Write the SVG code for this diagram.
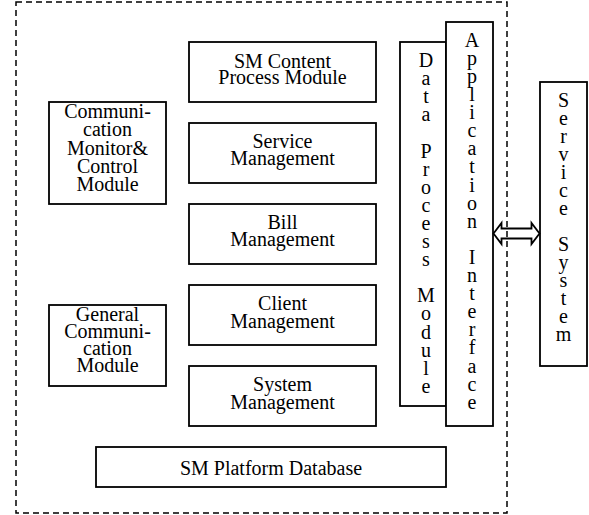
<svg xmlns="http://www.w3.org/2000/svg" width="589" height="515" viewBox="0 0 589 515">
<style>
.box{fill:#fff;stroke:#000;stroke-width:1.8}
.t{font-family:"Liberation Serif","Times New Roman",serif;font-size:20px;fill:#000;text-anchor:middle}
.border{fill:none;stroke:#000;stroke-width:1.5;stroke-dasharray:6 4}
</style>
<rect width="589" height="515" fill="#fff"/>
<g id="n-sm-content">
<rect class="box" x="189" y="42" width="187" height="60"/>
<text class="t" x="282.5" y="67.5">SM Content</text>
<text class="t" x="282.5" y="84">Process Module</text>
</g>
<g id="n-service-mgmt">
<rect class="box" x="189" y="123" width="187" height="60"/>
<text class="t" x="282.5" y="147.5">Service</text>
<text class="t" x="282.5" y="164.5">Management</text>
</g>
<g id="n-bill-mgmt">
<rect class="box" x="189" y="204" width="187" height="60"/>
<text class="t" x="282.5" y="228.5">Bill</text>
<text class="t" x="282.5" y="246">Management</text>
</g>
<g id="n-client-mgmt">
<rect class="box" x="189" y="285" width="187" height="60"/>
<text class="t" x="282.5" y="310">Client</text>
<text class="t" x="282.5" y="327.5">Management</text>
</g>
<g id="n-system-mgmt">
<rect class="box" x="189" y="366" width="187" height="60"/>
<text class="t" x="282.5" y="391">System</text>
<text class="t" x="282.5" y="408.5">Management</text>
</g>
<g id="n-comm-monitor">
<rect class="box" x="49" y="102" width="117" height="102"/>
<text class="t" x="107.5" y="118.3">Communi-</text>
<text class="t" x="107.5" y="136.4">cation</text>
<text class="t" x="107.5" y="154.5">Monitor&amp;</text>
<text class="t" x="107.5" y="172.6">Control</text>
<text class="t" x="107.5" y="190.7">Module</text>
</g>
<g id="n-general-comm">
<rect class="box" x="49" y="305" width="117" height="81"/>
<text class="t" x="107.5" y="321">General</text>
<text class="t" x="107.5" y="338">Communi-</text>
<text class="t" x="107.5" y="355">cation</text>
<text class="t" x="107.5" y="372.3">Module</text>
</g>
<g id="n-database">
<rect class="box" x="96" y="447" width="350" height="40"/>
<text class="t" x="271" y="475">SM Platform Database</text>
</g>
<g id="n-data-process">
<rect class="box" x="400" y="42" width="46" height="364"/>
<text class="t" x="426">
<tspan x="426" y="67">D</tspan><tspan x="426" y="85.1">a</tspan><tspan x="426" y="103.2">t</tspan><tspan x="426" y="121.3">a</tspan><tspan x="426" y="157.5">P</tspan><tspan x="426" y="175.6">r</tspan><tspan x="426" y="193.7">o</tspan><tspan x="426" y="211.8">c</tspan><tspan x="426" y="229.9">e</tspan><tspan x="426" y="248">s</tspan><tspan x="426" y="266.1">s</tspan><tspan x="426" y="302.3">M</tspan><tspan x="426" y="320.4">o</tspan><tspan x="426" y="338.5">d</tspan><tspan x="426" y="356.6">u</tspan><tspan x="426" y="374.7">l</tspan><tspan x="426" y="392.8">e</tspan>
</text>
</g>
<g id="n-app-interface">
<rect class="box" x="446" y="22" width="47" height="404"/>
<text class="t" x="472">
<tspan x="472" y="46.7">A</tspan><tspan x="472" y="64.8">p</tspan><tspan x="472" y="82.9">p</tspan><tspan x="472" y="101">l</tspan><tspan x="472" y="119.1">i</tspan><tspan x="472" y="137.2">c</tspan><tspan x="472" y="155.3">a</tspan><tspan x="472" y="173.4">t</tspan><tspan x="472" y="191.5">i</tspan><tspan x="472" y="209.6">o</tspan><tspan x="472" y="227.7">n</tspan><tspan x="472" y="263.9">I</tspan><tspan x="472" y="282">n</tspan><tspan x="472" y="300.1">t</tspan><tspan x="472" y="318.2">e</tspan><tspan x="472" y="336.3">r</tspan><tspan x="472" y="354.4">f</tspan><tspan x="472" y="372.5">a</tspan><tspan x="472" y="390.6">c</tspan><tspan x="472" y="408.7">e</tspan>
</text>
</g>
<g id="n-service-system">
<rect class="box" x="540" y="82" width="47" height="284"/>
<text class="t" x="563.5">
<tspan x="563.5" y="107.3">S</tspan><tspan x="563.5" y="125.3">e</tspan><tspan x="563.5" y="143.3">r</tspan><tspan x="563.5" y="161.3">v</tspan><tspan x="563.5" y="179.3">i</tspan><tspan x="563.5" y="197.3">c</tspan><tspan x="563.5" y="215.3">e</tspan><tspan x="563.5" y="251.3">S</tspan><tspan x="563.5" y="269.3">y</tspan><tspan x="563.5" y="287.3">s</tspan><tspan x="563.5" y="305.3">t</tspan><tspan x="563.5" y="323.3">e</tspan><tspan x="563.5" y="341.3">m</tspan>
</text>
</g>
<g id="connectors">
<polygon points="493.5,233.5 501.5,223 501.5,228.5 531.5,228.5 531.5,223 539.5,233.5 531.5,244 531.5,238.5 501.5,238.5 501.5,244" fill="none" stroke="#000" stroke-width="1.8" stroke-linejoin="miter"/>
</g>
<g id="boundary">
<rect class="border" x="16" y="2" width="491" height="511"/>
</g>
</svg>
